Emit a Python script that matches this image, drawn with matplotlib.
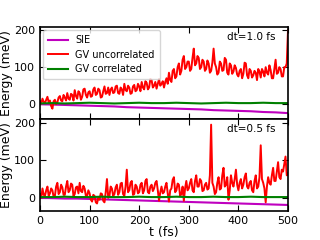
import numpy as np
import matplotlib
matplotlib.use('Agg')
import matplotlib.pyplot as plt

# time axis, 2.5 fs steps
t = np.arange(0, 500.1, 2.5)

# dt = 1.0 fs, GV uncorrelated (meV)
gv_unc_1 = [8, 2, 15, 6, 3, 12, 20, 5, 10, -5, -12, 8, 12, 0, 5, 18, 22, 10, 8, 25,
            18, 10, 30, 15, 12, 28, 25, 10, 38, 22, 15, 35, 30, 12, 20, 40, 42, 25, 18, 32,
            35, 20, 22, 40, 45, 25, 28, 42, 38, 18, 20, 35, 48, 28, 30, 45, 25, 40, 45, 30,
            32, 48, 50, 30, 28, 45, 40, 25, 55, 38, 35, 50, 45, 28, 30, 48, 52, 35, 38, 55,
            48, 35, 60, 45, 40, 62, 58, 40, 45, 68, 65, 45, 50, 60, 42, 55, 68, 50, 55, 62,
            45, 60, 70, 55, 85, 65, 60, 90, 95, 70, 75, 100, 110, 80, 90, 120, 130, 95, 100, 115,
            115, 90, 95, 125, 150, 105, 110, 130, 125, 95, 100, 120, 115, 90, 95, 118, 110, 85, 90, 112,
            150, 110, 100, 80, 85, 115, 110, 90, 92, 125, 120, 85, 80, 110, 105, 82, 88, 105, 98, 80,
            75, 90, 95, 70, 82, 112, 110, 78, 70, 95, 90, 72, 78, 90, 85, 65, 95, 88, 72, 95,
            88, 75, 100, 85, 80, 105, 92, 70, 70, 95, 120, 82, 85, 100, 95, 75, 75, 100, 100, 110,
            200]

# dt = 0.5 fs, GV uncorrelated (meV)
gv_unc_05 = [10, 0, 25, 8, 5, 20, 30, 5, 12, 25, 20, 2, 5, 30, 40, 10, 15, 35, 28, 8,
             8, 30, 45, 15, 20, 38, 35, 5, 10, 28, 30, 12, 40, 18, 15, 32, 25, 5, 5, 20,
             12, -5, -10, 8, 5, -12, -15, 0, -5, 12, 10, -8, -12, 15, 50, 0, 5, 30, 25, 5,
             10, 28, 35, 8, 15, 38, 40, 10, 5, 30, 75, 15, 20, 40, 45, 8, 10, 35, 30, 12,
             15, 35, 40, 12, 20, 45, 50, 15, 12, 30, 35, 18, 25, 40, 45, 20, -8, 15, 30, 12,
             15, 30, 40, 12, -10, 20, 25, 48, 55, 15, 20, 38, 35, 5, 10, 30, -8, 25, 45, 20,
             25, 40, 50, 20, 15, 45, 60, 30, 30, 50, 45, 18, 20, 35, 40, 22, 25, 60, 195, 40,
             30, 10, 15, 40, 55, 22, 25, 60, 80, 30, 35, 55, -5, 20, 60, 40, 30, 50, 75, 35,
             20, 40, 50, 25, 35, 55, 65, 30, 25, 40, 45, 20, 15, 45, 60, 25, 30, 55, 140, 50,
             40, 25, -12, 30, 55, 40, 35, 60, 80, 45, 45, 70, 95, 55, 50, 75, 70, 90, 110, 60,
             65]

# SIE and GV correlated, 25 fs steps
t_s = np.arange(0, 501, 25)
sie_1 = [0, -1, -2, -3, -4, -5, -6, -8, -9, -10, -11,
         -12, -13, -14, -16, -17, -18, -19, -21, -22, -24]
gvc_1 = [2, 3, 2, 3, 4, 3, 2, 3, 4, 3, 3,
         4, 3, 2, 3, 4, 3, 3, 4, 3, 3]
sie_05 = [0, -1, -2, -2, -3, -4, -5, -6, -7, -8, -9,
          -10, -11, -12, -13, -14, -15, -16, -17, -18, -19]
gvc_05 = [2, 2, 3, 2, 2, 3, 2, 2, 3, 2, 2,
          3, 2, 2, 3, 2, 2, 3, 2, 2, 2]

fig = plt.figure(figsize=(3.2, 2.4), dpi=100)
ax1 = fig.add_axes([0.125, 0.504, 0.775, 0.383])
ax2 = fig.add_axes([0.125, 0.121, 0.775, 0.383])

for ax, sie, gvu, gvc, lab in [(ax1, sie_1, gv_unc_1, gvc_1, 'dt=1.0 fs'),
                               (ax2, sie_05, gv_unc_05, gvc_05, 'dt=0.5 fs')]:
    ax.plot(t_s, sie, color='m', lw=1.5, label='SIE')
    ax.plot(t, gvu, color='r', lw=1.4, label='GV uncorrelated')
    ax.plot(t_s, gvc, color='g', lw=1.5, label='GV correlated')
    ax.set_xlim(0, 500)
    ax.set_xticks([0, 100, 200, 300, 400, 500])
    ax.set_yticks([0, 100, 200])
    ax.tick_params(direction='in', top=True, right=True, length=4, labelsize=8)
    ax.set_ylabel('Energy (meV)', fontsize=9, labelpad=1)
    ax.text(0.95, 0.95, lab, transform=ax.transAxes, ha='right', va='top', fontsize=7.5)
    for s in ax.spines.values():
        s.set_linewidth(1.2)

ax1.set_ylim(-40, 208)
ax2.set_ylim(-35, 210)
ax1.tick_params(labelbottom=False)
ax2.set_xlabel('t (fs)', fontsize=9, labelpad=0)
ax1.legend(loc='upper left', fontsize=7, handlelength=2.0, borderpad=0.55,
           labelspacing=0.45, borderaxespad=0.3)

fig.savefig('out.png', dpi=100)
